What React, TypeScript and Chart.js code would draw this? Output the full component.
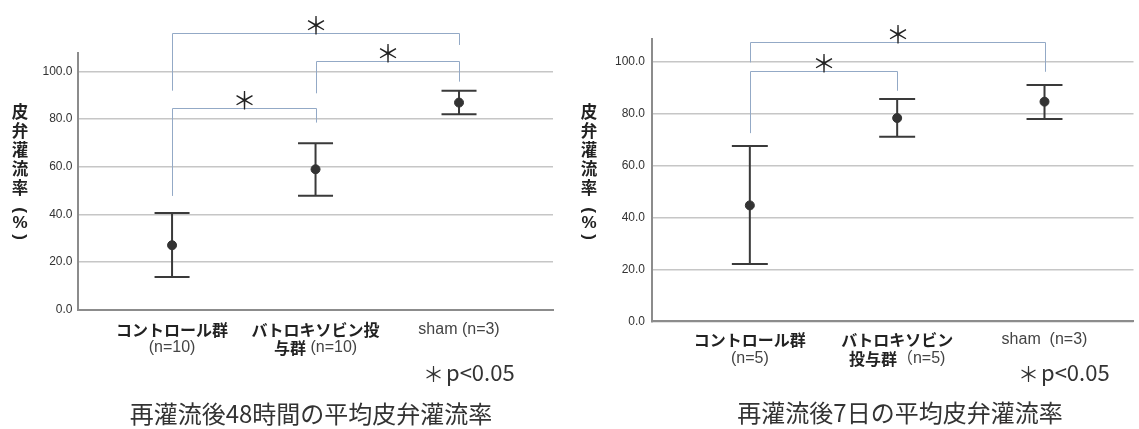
import React, { useEffect, useRef } from "react";
import { Chart, registerables } from "chart.js";

Chart.register(...registerables);

// ---------- 再灌流後48時間 ----------
const categories48 = ["コントロール群\n(n=10)", "バトロキソビン投\n与群 (n=10)", "sham (n=3)"];
const means48 = [27.0, 58.9, 86.9];
const upper48 = [40.5, 69.8, 91.9];
const lower48 = [13.7, 47.8, 82.0];
const sigFrom48 = [0, 1, 0];
const sigTo48 = [2, 2, 1];
const sigLevel48 = [116.1, 104.5, 84.5];
const sigFromEnd48 = [91.9, 90.8, 47.7];
const sigToEnd48 = [111.1, 95.7, 78.5];
const title48 = "再灌流後48時間の平均皮弁灌流率";

// ---------- 再灌流後7日 ----------
const categories7 = ["コントロール群\n(n=5)", "バトロキソビン\n投与群（n=5)", "sham  (n=3)"];
const means7 = [44.6, 78.2, 84.5];
const upper7 = [67.4, 85.5, 90.9];
const lower7 = [22.0, 71.0, 77.8];
const sigFrom7 = [0, 0];
const sigTo7 = [2, 1];
const sigLevel7 = [107.3, 96.2];
const sigFromEnd7 = [99.6, 72.4];
const sigToEnd7 = [96.0, 88.7];
const title7 = "再灌流後7日の平均皮弁灌流率";

const yTickValues = [0, 20, 40, 60, 80, 100];
const yAxisTitle = "皮弁灌流率（%）";
const sigMark = "＊";
const pNoteMark = "＊";
const pNoteText = "p<0.05";

const CJK = '"Noto Sans CJK JP"';
const LAT = '"Liberation Sans"';

type Panel = {
  cats: string[];
  means: number[];
  upper: number[];
  lower: number[];
  sigFrom: number[];
  sigTo: number[];
  sigLevel: number[];
  sigFromEnd: number[];
  sigToEnd: number[];
  title: string;
  layout: {
    width: number;
    left: number;
    yMax: number;
    xMin: number;
    xMax: number;
    padTop: number;
    padRight: number;
    yAxisWidth: number;
    xAxisHeight: number;
    tickPad: number;
    labelY1: number;
    labelY2: number;
    yTitleX: number;
    pNoteX: number;
    pNoteY: number;
    titleX: number;
    titleY: number;
  };
};

const panels: Panel[] = [
  {
    cats: categories48, means: means48, upper: upper48, lower: lower48,
    sigFrom: sigFrom48, sigTo: sigTo48, sigLevel: sigLevel48,
    sigFromEnd: sigFromEnd48, sigToEnd: sigToEnd48, title: title48,
    layout: {
      width: 560, left: 0, yMax: 107.6, xMin: -0.659, xMax: 2.655,
      padTop: 53.3, padRight: 7, yAxisWidth: 77.5, xAxisHeight: 119.5, tickPad: 5,
      labelY1: 330, labelY2: 347.5, yTitleX: 20, pNoteX: 427, pNoteY: 373,
      titleX: 311, titleY: 414,
    },
  },
  {
    cats: categories7, means: means7, upper: upper7, lower: lower7,
    sigFrom: sigFrom7, sigTo: sigTo7, sigLevel: sigLevel7,
    sigFromEnd: sigFromEnd7, sigToEnd: sigToEnd7, title: title7,
    layout: {
      width: 569, left: 570, yMax: 108.5, xMin: -0.664, xMax: 2.604,
      padTop: 39.3, padRight: 0, yAxisWidth: 82, xAxisHeight: 107.7, tickPad: 7,
      labelY1: 340, labelY2: 358.5, yTitleX: 19, pNoteX: 452, pNoteY: 373,
      titleX: 330, titleY: 413,
    },
  },
];

const isBoldChar = (c: string) => /[\u3040-\u30ff\u4e00-\u9fff]/.test(c);

function drawMixedCentered(ctx: CanvasRenderingContext2D, text: string, cx: number, y: number) {
  const runs: { t: string; b: boolean }[] = [];
  for (const ch of text) {
    const b = isBoldChar(ch);
    if (runs.length && runs[runs.length - 1].b === b) runs[runs.length - 1].t += ch;
    else runs.push({ t: ch, b });
  }
  const fontFor = (b: boolean) => (b ? `bold 16px ${CJK}` : `16px ${LAT}, ${CJK}`);
  let total = 0;
  const widths = runs.map((r) => {
    ctx.font = fontFor(r.b);
    const w = ctx.measureText(r.t).width;
    total += w;
    return w;
  });
  let x = cx - total / 2;
  ctx.textAlign = "left";
  ctx.textBaseline = "middle";
  runs.forEach((r, i) => {
    ctx.font = fontFor(r.b);
    ctx.fillStyle = r.b ? "#222" : "#444";
    ctx.fillText(r.t, x, y);
    x += widths[i];
  });
}

function makeChart(canvas: HTMLCanvasElement, p: Panel) {
  const L = p.layout;
  const capHalf = 0.122;

  const errorBars = {
    id: "errorBars",
    beforeDatasetsDraw(chart: any) {
      const { ctx } = chart;
      const xs = chart.scales.x;
      const ys = chart.scales.y;
      ctx.save();
      ctx.strokeStyle = "#3a3a3a";
      ctx.lineWidth = 2;
      p.means.forEach((_, i) => {
        const x = xs.getPixelForValue(i);
        const x0 = xs.getPixelForValue(i - capHalf);
        const x1 = xs.getPixelForValue(i + capHalf);
        const yh = ys.getPixelForValue(p.upper[i]);
        const yl = ys.getPixelForValue(p.lower[i]);
        ctx.beginPath();
        ctx.moveTo(x, yh);
        ctx.lineTo(x, yl);
        ctx.moveTo(x0, yh);
        ctx.lineTo(x1, yh);
        ctx.moveTo(x0, yl);
        ctx.lineTo(x1, yl);
        ctx.stroke();
      });
      ctx.restore();
    },
  };

  const annotations = {
    id: "annotations",
    afterDraw(chart: any) {
      const { ctx } = chart;
      const xs = chart.scales.x;
      const ys = chart.scales.y;
      ctx.save();
      // significance brackets
      ctx.strokeStyle = "#93a9c6";
      ctx.lineWidth = 1;
      p.sigFrom.forEach((f, k) => {
        const t = p.sigTo[k];
        const xa = Math.round(xs.getPixelForValue(f)) + 0.5;
        const xb = Math.round(xs.getPixelForValue(t)) + 0.5;
        const yl = Math.round(ys.getPixelForValue(p.sigLevel[k])) + 0.5;
        ctx.beginPath();
        ctx.moveTo(xa, ys.getPixelForValue(p.sigFromEnd[k]));
        ctx.lineTo(xa, yl);
        ctx.lineTo(xb, yl);
        ctx.lineTo(xb, ys.getPixelForValue(p.sigToEnd[k]));
        ctx.stroke();
        ctx.fillStyle = "#222";
        ctx.font = `24px ${CJK}`;
        ctx.textAlign = "center";
        ctx.textBaseline = "middle";
        ctx.fillText(sigMark, (xa + xb) / 2, yl - 9);
      });

      // y-axis title (vertical)
      const chars = Array.from(yAxisTitle);
      const ysTitle = [112, 131, 150, 169, 188, 210, 223.5, 237];
      chars.forEach((c, i) => {
        const y = ysTitle[i];
        ctx.fillStyle = "#222";
        ctx.textAlign = "center";
        ctx.textBaseline = "middle";
        if (c === "（" || c === "）") {
          ctx.save();
          ctx.translate(L.yTitleX, y);
          ctx.rotate(Math.PI / 2);
          ctx.font = `bold 17px ${LAT}`;
          ctx.fillText(c === "（" ? "(" : ")", 0, 0);
          ctx.restore();
        } else if (c === "%") {
          ctx.font = `bold 17px ${LAT}`;
          ctx.fillText(c, L.yTitleX, y);
        } else {
          ctx.font = `bold 16.5px ${CJK}`;
          ctx.fillText(c, L.yTitleX, y);
        }
      });

      // category labels
      p.cats.forEach((lab, i) => {
        const x = xs.getPixelForValue(i);
        const lines = lab.split("\n");
        lines.forEach((ln, j) => {
          drawMixedCentered(ctx, ln, x, j === 0 ? L.labelY1 : L.labelY2);
        });
      });

      // p note
      ctx.fillStyle = "#333";
      ctx.textBaseline = "middle";
      ctx.textAlign = "center";
      ctx.font = `21px ${CJK}`;
      ctx.fillText(pNoteMark, L.pNoteX + 6.5, L.pNoteY + 1);
      ctx.textAlign = "left";
      ctx.font = `22px ${CJK}`;
      ctx.fillText(pNoteText, L.pNoteX + 19, L.pNoteY);

      // bottom title
      ctx.fillStyle = "#333";
      ctx.textAlign = "center";
      ctx.font = `24px ${CJK}`;
      ctx.fillText(p.title, L.titleX, L.titleY);
      ctx.restore();
    },
  };

  return new Chart(canvas, {
    type: "scatter",
    data: {
      datasets: [
        {
          data: p.means.map((m, i) => ({ x: i, y: m })),
          pointRadius: 4.5,
          pointBackgroundColor: "#333",
          pointBorderColor: "#333",
          pointBorderWidth: 1,
          showLine: false,
        },
      ],
    },
    options: {
      responsive: false,
      animation: false,
      devicePixelRatio: 1,
      layout: { padding: { top: L.padTop, right: L.padRight, left: 0, bottom: 0 } },
      plugins: { legend: { display: false }, tooltip: { enabled: false } },
      scales: {
        x: {
          type: "linear",
          min: L.xMin,
          max: L.xMax,
          afterFit: (s: any) => {
            s.height = L.xAxisHeight;
          },
          ticks: { display: false },
          grid: { display: false, drawTicks: false },
          border: { display: true, color: "#8c8c8c", width: 2 },
        },
        y: {
          type: "linear",
          min: 0,
          max: L.yMax,
          afterFit: (s: any) => {
            s.width = L.yAxisWidth;
          },
          afterBuildTicks: (s: any) => {
            s.ticks = yTickValues.map((v) => ({ value: v }));
          },
          ticks: {
            callback: (v: any) => Number(v).toFixed(1),
            font: { family: "Liberation Sans", size: 12 },
            color: "#333",
            padding: L.tickPad,
          },
          grid: { color: "#c6c6c6", lineWidth: 1.5, drawTicks: false },
          border: { display: true, color: "#8c8c8c", width: 2 },
        },
      },
    } as any,
    plugins: [errorBars, annotations],
  });
}

function PanelChart({ p }: { p: Panel }) {
  const ref = useRef<HTMLCanvasElement>(null);
  useEffect(() => {
    if (!ref.current) return;
    const c = makeChart(ref.current, p);
    return () => c.destroy();
  }, [p]);
  return (
    <canvas
      ref={ref}
      width={p.layout.width}
      height={429}
      style={{ position: "absolute", left: p.layout.left, top: 0, width: p.layout.width, height: 429 }}
    />
  );
}

export default function App() {
  return (
    <div style={{ position: "fixed", left: 0, top: 0, width: 1139, height: 429, background: "#fff", overflow: "hidden" }}>
      {panels.map((p, i) => (
        <PanelChart key={i} p={p} />
      ))}
    </div>
  );
}
